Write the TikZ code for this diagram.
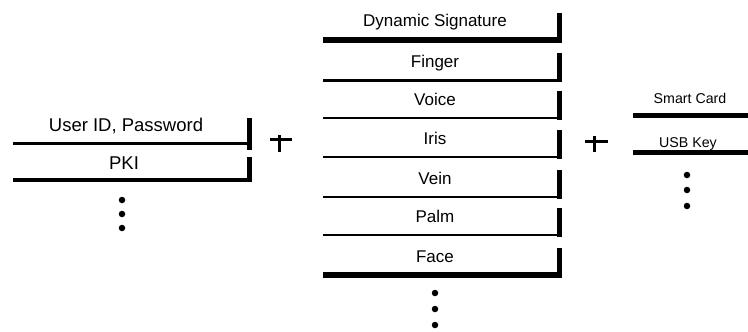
\documentclass[tikz,border=0pt]{standalone}
\usepackage{fontspec}
\setmainfont{Liberation Sans}
\begin{document}
\begin{tikzpicture}[x=1pt,y=-1pt,
  lbl/.style={anchor=base,inner sep=0pt,font=\fontsize{17}{17}\selectfont},
  lblL/.style={anchor=base,inner sep=0pt,font=\fontsize{18.5}{18.5}\selectfont},
  lblR/.style={anchor=base,inner sep=0pt,font=\fontsize{14.2}{14.2}\selectfont},
  bar/.style={fill=black},
  dotmark/.style={circle,fill=black,inner sep=0pt,minimum size=6.5pt},
  plusbar/.style={line width=3pt}]
\useasboundingbox (0,0) rectangle (748,332);
% left column
\node[lblL] (u1) at (126,131.5) {User ID, Password};
\draw[line width=3pt] (13,143) -- (252,143);
\fill[bar] (247,118) rectangle (252,150);
\node[lblL] (u2) at (124,169.5) {PKI};
\draw[line width=4pt] (13,180) -- (252,180);
\fill[bar] (247,157) rectangle (252,182);
\node[dotmark] (ld1) at (122,200) {};
\node[dotmark] (ld2) at (122,214) {};
\node[dotmark] (ld3) at (122,228) {};
% plus 1
\draw[plusbar] (270,139) -- (292,139);
\draw[plusbar] (279,135) -- (279,152);
% middle column
\foreach \t/\y/\w [count=\i] in {Dynamic Signature/40/6, Finger/80/3, Voice/118/2, Iris/157/2.5, Vein/197/2.5, Palm/235/1.5, Face/275/6} {
  \node[lbl] (m\i) at (435,\y-13) {\t};
  \draw[line width=\w pt] (323,\y) -- (562,\y);
  \fill[bar] (557,\y-27) rectangle (562,\y+2);
}
\node[dotmark] (md1) at (435,293) {};
\node[dotmark] (md2) at (435,309) {};
\node[dotmark] (md3) at (435,325) {};
% plus 2
\draw[plusbar] (585,141) -- (608,141);
\draw[plusbar] (594,136) -- (594,152);
% right column
\node[lblR] (r1) at (690,103) {Smart Card};
\draw[line width=5pt] (633,115.5) -- (748,115.5);
\node[lblR] (r2) at (688,147) {USB Key};
\draw[line width=5pt] (633,152.5) -- (748,152.5);
\node[dotmark] (rd1) at (687,175) {};
\node[dotmark] (rd2) at (687,190) {};
\node[dotmark] (rd3) at (687,206) {};
\end{tikzpicture}
\end{document}
